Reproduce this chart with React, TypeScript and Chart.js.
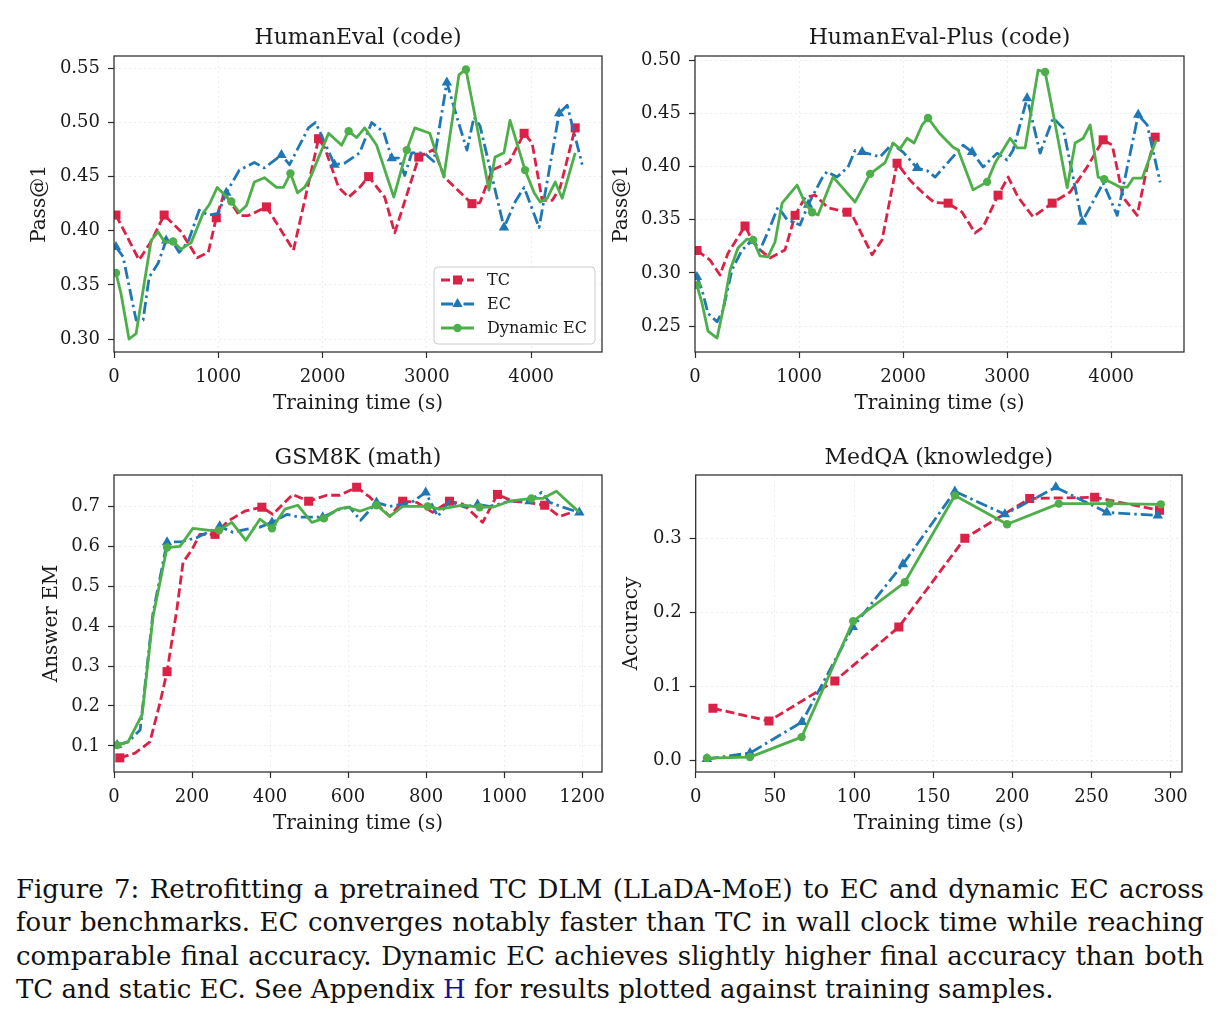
import React, { useEffect, useRef } from "react";
import { Chart, registerables } from "chart.js";

Chart.register(...registerables);

// ---------------- data ----------------
const seriesNames = ["TC", "EC", "Dynamic EC"];

// HumanEval (code)
const heTcTime = [19, 240, 356, 481, 644, 798, 904, 981, 1058, 1202, 1288, 1462, 1721, 1962, 2019, 2154, 2250, 2356, 2442, 2596, 2692, 2923, 3067, 3173, 3433, 3510, 3625, 3788, 3933, 4010, 4106, 4202, 4279, 4423];
const heTcPass = [0.4145, 0.373, 0.39, 0.4145, 0.399, 0.375, 0.38, 0.412, 0.435, 0.414, 0.414, 0.422, 0.382, 0.485, 0.477, 0.44, 0.431, 0.44, 0.45, 0.431, 0.398, 0.468, 0.475, 0.449, 0.425, 0.426, 0.456, 0.463, 0.49, 0.481, 0.428, 0.428, 0.44, 0.495];
const heTcMarks = [0, 3, 7, 11, 13, 18, 21, 24, 28, 33];
const heEcTime = [19, 87, 212, 279, 337, 423, 500, 548, 625, 712, 817, 904, 1000, 1077, 1202, 1346, 1442, 1606, 1683, 1865, 1933, 1990, 2115, 2212, 2356, 2471, 2587, 2663, 2731, 2788, 2856, 2971, 3067, 3192, 3288, 3385, 3452, 3510, 3740, 3846, 3933, 4077, 4269, 4346, 4490];
const heEcPass = [0.385, 0.376, 0.3175, 0.3175, 0.357, 0.37, 0.391, 0.392, 0.38, 0.39, 0.419, 0.4145, 0.416, 0.435, 0.456, 0.463, 0.458, 0.47, 0.461, 0.495, 0.5, 0.488, 0.461, 0.4625, 0.472, 0.5, 0.491, 0.467, 0.467, 0.451, 0.472, 0.472, 0.464, 0.537, 0.505, 0.4745, 0.505, 0.497, 0.403, 0.4265, 0.44, 0.403, 0.5085, 0.516, 0.461];
const heEcMarks = [0, 6, 13, 17, 22, 27, 33, 38, 42];
const heDynTime = [19, 67, 144, 212, 356, 423, 481, 567, 644, 740, 856, 913, 990, 1125, 1202, 1269, 1346, 1442, 1558, 1625, 1692, 1760, 1827, 1885, 2058, 2183, 2250, 2327, 2404, 2519, 2683, 2808, 2885, 3029, 3163, 3308, 3375, 3452, 3596, 3654, 3740, 3798, 3942, 4029, 4087, 4154, 4231, 4298, 4423];
const heDynPass = [0.361, 0.342, 0.3, 0.305, 0.391, 0.399, 0.39, 0.39, 0.383, 0.389, 0.4165, 0.424, 0.44, 0.427, 0.417, 0.423, 0.445, 0.449, 0.44, 0.44, 0.453, 0.435, 0.44, 0.4495, 0.49, 0.479, 0.492, 0.486, 0.495, 0.479, 0.431, 0.4745, 0.495, 0.49, 0.4495, 0.544, 0.549, 0.511, 0.4375, 0.468, 0.472, 0.502, 0.456, 0.435, 0.4265, 0.43, 0.445, 0.43, 0.472];
const heDynMarks = [0, 7, 13, 20, 26, 31, 36, 42];

// HumanEval-Plus (code)
const hpTcTime = [19, 144, 240, 317, 481, 548, 625, 721, 865, 962, 1058, 1154, 1279, 1462, 1519, 1702, 1798, 1942, 2067, 2192, 2300, 2433, 2567, 2692, 2769, 2913, 3010, 3106, 3250, 3433, 3606, 3769, 3923, 4010, 4115, 4250, 4346, 4423];
const hpTcPass = [0.321, 0.312, 0.298, 0.3185, 0.344, 0.331, 0.3215, 0.314, 0.3215, 0.354, 0.371, 0.373, 0.361, 0.357, 0.3525, 0.317, 0.331, 0.403, 0.387, 0.375, 0.366, 0.3655, 0.357, 0.3375, 0.343, 0.373, 0.39, 0.371, 0.3525, 0.3655, 0.376, 0.3995, 0.425, 0.42, 0.371, 0.354, 0.3995, 0.4275];
const hpTcMarks = [0, 4, 9, 13, 17, 21, 25, 29, 32, 37];
const hpEcTime = [19, 67, 125, 212, 269, 356, 452, 548, 625, 721, 798, 885, 1010, 1087, 1221, 1269, 1365, 1471, 1538, 1606, 1779, 1894, 2000, 2135, 2231, 2308, 2577, 2663, 2769, 2904, 3000, 3058, 3192, 3317, 3442, 3538, 3721, 3923, 4058, 4260, 4346, 4471];
const hpEcPass = [0.296, 0.284, 0.262, 0.254, 0.265, 0.303, 0.3215, 0.33, 0.3215, 0.343, 0.362, 0.35, 0.345, 0.364, 0.389, 0.395, 0.39, 0.3995, 0.415, 0.4135, 0.409, 0.421, 0.4135, 0.3985, 0.396, 0.39, 0.42, 0.4135, 0.3995, 0.4125, 0.406, 0.4155, 0.464, 0.4125, 0.4455, 0.436, 0.348, 0.3845, 0.354, 0.4485, 0.439, 0.385];
const hpEcMarks = [0, 7, 13, 19, 23, 27, 32, 36, 39];
const hpDynTime = [19, 67, 125, 212, 269, 337, 413, 500, 558, 625, 702, 769, 837, 981, 1058, 1125, 1183, 1327, 1413, 1538, 1683, 1827, 1904, 1971, 2038, 2106, 2183, 2240, 2346, 2481, 2529, 2673, 2808, 2885, 3029, 3096, 3173, 3298, 3365, 3442, 3577, 3654, 3731, 3798, 3875, 3933, 4010, 4087, 4154, 4212, 4298, 4433];
const hpDynPass = [0.2885, 0.2716, 0.2453, 0.2387, 0.265, 0.3025, 0.3233, 0.3317, 0.331, 0.316, 0.315, 0.329, 0.3655, 0.3825, 0.3655, 0.357, 0.3545, 0.39, 0.3805, 0.3665, 0.393, 0.4035, 0.422, 0.4165, 0.4265, 0.422, 0.439, 0.4455, 0.4315, 0.418, 0.4155, 0.378, 0.3855, 0.4035, 0.4265, 0.4175, 0.4175, 0.4906, 0.4887, 0.45, 0.38, 0.422, 0.4265, 0.439, 0.39, 0.388, 0.3845, 0.3805, 0.3805, 0.389, 0.389, 0.4248];
const hpDynMarks = [0, 8, 15, 20, 27, 32, 38, 45];

// GSM8K (math)
const gsTcTime = [15, 54, 92, 118, 136, 161, 177, 200, 220, 259, 292, 335, 379, 407, 458, 499, 545, 579, 622, 656, 707, 740, 776, 817, 860, 894, 945, 983, 1022, 1060, 1104, 1142, 1173];
const gsTcEm = [0.07, 0.082, 0.11, 0.208, 0.286, 0.441, 0.56, 0.592, 0.63, 0.63, 0.663, 0.688, 0.698, 0.68, 0.73, 0.713, 0.728, 0.728, 0.748, 0.723, 0.675, 0.713, 0.71, 0.685, 0.713, 0.706, 0.66, 0.73, 0.713, 0.71, 0.703, 0.675, 0.685];
const gsTcMarks = [0, 4, 9, 12, 15, 18, 21, 24, 27, 30];
const gsEcTime = [8, 36, 67, 100, 136, 174, 213, 271, 305, 341, 374, 405, 443, 476, 535, 579, 604, 632, 673, 707, 763, 799, 830, 860, 899, 932, 963, 1014, 1065, 1096, 1117, 1150, 1193];
const gsEcEm = [0.102, 0.11, 0.14, 0.433, 0.61, 0.612, 0.622, 0.65, 0.635, 0.643, 0.648, 0.66, 0.68, 0.673, 0.673, 0.693, 0.698, 0.665, 0.71, 0.7, 0.71, 0.735, 0.675, 0.713, 0.698, 0.705, 0.7, 0.713, 0.713, 0.735, 0.71, 0.698, 0.685];
const gsEcMarks = [0, 4, 7, 11, 14, 18, 21, 25, 28, 32];
const gsDynTime = [8, 36, 72, 100, 136, 169, 202, 246, 269, 302, 338, 374, 405, 438, 471, 507, 538, 574, 599, 630, 673, 707, 740, 804, 835, 894, 937, 971, 1014, 1070, 1099, 1134, 1193];
const gsDynEm = [0.102, 0.11, 0.178, 0.424, 0.597, 0.6, 0.645, 0.64, 0.64, 0.66, 0.615, 0.668, 0.645, 0.693, 0.703, 0.66, 0.67, 0.693, 0.698, 0.688, 0.703, 0.675, 0.7, 0.7, 0.693, 0.703, 0.698, 0.698, 0.713, 0.72, 0.72, 0.738, 0.685];
const gsDynMarks = [0, 4, 8, 12, 16, 20, 23, 26, 29];

// MedQA (knowledge)
const mqTcTime = [10.9, 46.3, 87.9, 128.3, 170, 211, 252, 293];
const mqTcAcc = [0.07, 0.0527, 0.107, 0.18, 0.3, 0.354, 0.3555, 0.338];
const mqTcMarks = [0, 1, 2, 3, 4, 5, 6, 7];
const mqEcTime = [7.1, 34.3, 67.1, 99.3, 130.9, 163.7, 195.3, 227.5, 259.7, 291.9];
const mqEcAcc = [0.0014, 0.0095, 0.0514, 0.18, 0.265, 0.3635, 0.3325, 0.369, 0.335, 0.331];
const mqEcMarks = [0, 1, 2, 3, 4, 5, 6, 7, 8, 9];
const mqDynTime = [7.1, 34.3, 66.9, 99.5, 132.1, 163.7, 196.7, 229.4, 261.5, 293.8];
const mqDynAcc = [0.0027, 0.004, 0.031, 0.188, 0.2405, 0.358, 0.319, 0.347, 0.347, 0.346];
const mqDynMarks = [0, 1, 2, 3, 4, 5, 6, 7, 8, 9];

// axis ticks
const heXTicks = [0, 1000, 2000, 3000, 4000];
const heYTicks = [0.3, 0.35, 0.4, 0.45, 0.5, 0.55];
const hpXTicks = [0, 1000, 2000, 3000, 4000];
const hpYTicks = [0.25, 0.3, 0.35, 0.4, 0.45, 0.5];
const gsXTicks = [0, 200, 400, 600, 800, 1000, 1200];
const gsYTicks = [0.1, 0.2, 0.3, 0.4, 0.5, 0.6, 0.7];
const mqXTicks = [0, 50, 100, 150, 200, 250, 300];
const mqYTicks = [0.0, 0.1, 0.2, 0.3];

const captionLines = [
  "Figure 7: Retrofitting a pretrained TC DLM (LLaDA-MoE) to EC and dynamic EC across",
  "four benchmarks. EC converges notably faster than TC in wall clock time while reaching",
  "comparable final accuracy. Dynamic EC achieves slightly higher final accuracy than both",
];
const captionLastBefore = "TC and static EC. See Appendix ";
const captionLink = "H";
const captionLastAfter = " for results plotted against training samples.";

// ---------------- styles ----------------
const FONT = '"DejaVu Serif", serif';
const TEXT = "#1a1a1a";
const SPINE = "#2b2b2b";
const LINE_W = 2.8;

type SeriesStyle = { color: string; dash: number[]; point: string; radius: number };
const STYLES: Record<string, SeriesStyle> = {
  TC: { color: "#DB2145", dash: [9, 4], point: "rect", radius: 6.4 },
  EC: { color: "#1F77B4", dash: [12, 4, 2.5, 4], point: "triangle", radius: 6 },
  "Dynamic EC": { color: "#4DAF4A", dash: [], point: "circle", radius: 4.2 },
};

type Series = { name: string; x: number[]; y: number[]; marks: number[] };
type PanelCfg = {
  left: number; top: number; w: number; h: number;
  title: string; yLabel: string; xLabel: string;
  series: Series[];
  xMin: number; xMax: number; yMin: number; yMax: number;
  xTicks: number[]; yTicks: number[]; yDec: number;
  yAxisWidth: number; xAxisHeight: number; padRight: number;
  titlePadTop: number; titlePadBottom: number;
  yTitlePad: number; xTitlePad: number;
  legend: boolean;
};

function drawMarker(ctx: CanvasRenderingContext2D, kind: string, x: number, y: number, r: number) {
  ctx.beginPath();
  if (kind === "rect") {
    const s = r * Math.SQRT1_2;
    ctx.rect(x - s, y - s, 2 * s, 2 * s);
  } else if (kind === "triangle") {
    for (let k = 0; k < 3; k++) {
      const a = (k * 2 * Math.PI) / 3;
      const px = x + Math.sin(a) * r;
      const py = y - Math.cos(a) * r;
      if (k === 0) ctx.moveTo(px, py);
      else ctx.lineTo(px, py);
    }
    ctx.closePath();
  } else {
    ctx.arc(x, y, r, 0, Math.PI * 2);
  }
  ctx.fill();
}

const framePlugin = {
  id: "mplFrame",
  afterDatasetsDraw(chart: any) {
    const { ctx, chartArea: a } = chart;
    ctx.save();
    ctx.strokeStyle = SPINE;
    ctx.lineWidth = 1.25;
    ctx.setLineDash([]);
    ctx.strokeRect(a.left, a.top, a.right - a.left, a.bottom - a.top);
    ctx.restore();
  },
};

const legendPlugin = {
  id: "mplLegend",
  afterDraw(chart: any, _args: any, opts: any) {
    if (!opts || !opts.show) return;
    const { ctx, chartArea: a } = chart;
    const names: string[] = chart.data.datasets.map((d: any) => d.label);
    ctx.save();
    ctx.font = `16px ${FONT}`;
    const textW = Math.max(...names.map((n) => ctx.measureText(n).width));
    const lineLen = 33;
    const boxW = 7 + lineLen + 13 + textW + 8;
    const rowH = 24;
    const boxH = 13 + rowH * (names.length - 1) + 16;
    const x0 = a.right - 7 - boxW;
    const y0 = a.bottom - 8 - boxH;
    ctx.beginPath();
    ctx.roundRect(x0, y0, boxW, boxH, 4);
    ctx.fillStyle = "rgba(255,255,255,0.85)";
    ctx.fill();
    ctx.strokeStyle = "#cccccc";
    ctx.lineWidth = 1;
    ctx.stroke();
    names.forEach((n, i) => {
      const st = STYLES[n];
      const cy = y0 + 13 + i * rowH;
      ctx.strokeStyle = st.color;
      ctx.fillStyle = st.color;
      ctx.lineWidth = LINE_W;
      ctx.setLineDash(st.dash);
      ctx.beginPath();
      ctx.moveTo(x0 + 7, cy);
      ctx.lineTo(x0 + 7 + lineLen, cy);
      ctx.stroke();
      ctx.setLineDash([]);
      drawMarker(ctx, st.point, x0 + 7 + lineLen / 2, cy, st.radius);
      ctx.fillStyle = TEXT;
      ctx.textBaseline = "middle";
      ctx.textAlign = "left";
      ctx.fillText(n, x0 + 7 + lineLen + 13, cy + 1);
    });
    ctx.restore();
  },
};

function buildConfig(p: PanelCfg): any {
  const datasets = p.series.map((s, k) => {
    const st = STYLES[s.name];
    return {
      label: s.name,
      data: s.x.map((xv, i) => ({ x: xv, y: s.y[i] })),
      borderColor: st.color,
      backgroundColor: st.color,
      pointBackgroundColor: st.color,
      pointBorderColor: st.color,
      borderWidth: LINE_W,
      borderDash: st.dash,
      borderJoinStyle: "round",
      pointStyle: st.point,
      pointRadius: (c: any) => (s.marks.includes(c.dataIndex) ? st.radius : 0),
      pointHoverRadius: 0,
      pointBorderWidth: 0,
      tension: 0,
      order: p.series.length - k,
    };
  });
  const tickFont = { family: FONT, size: 18 };
  const labelFont = { family: FONT, size: 20 };
  const grid = {
    color: "rgba(0,0,0,0.09)",
    lineWidth: 0.8,
    tickColor: SPINE,
    tickLength: 6,
    tickWidth: 1.2,
    drawTicks: true,
  };
  return {
    type: "line",
    data: { datasets },
    plugins: [framePlugin, legendPlugin],
    options: {
      responsive: false,
      maintainAspectRatio: false,
      animation: false,
      events: [],
      layout: { padding: { left: 0, right: p.padRight, top: 0, bottom: 0 } },
      plugins: {
        legend: { display: false },
        tooltip: { enabled: false },
        title: {
          display: true,
          text: p.title,
          fullSize: false,
          color: TEXT,
          font: { family: FONT, size: 22, weight: "normal" },
          padding: { top: p.titlePadTop, bottom: p.titlePadBottom },
        },
        mplLegend: { show: p.legend },
      },
      scales: {
        x: {
          type: "linear",
          min: p.xMin,
          max: p.xMax,
          afterBuildTicks: (s: any) => {
            s.ticks = p.xTicks.map((v) => ({ value: v }));
          },
          afterFit: (s: any) => {
            s.height = p.xAxisHeight;
            s.paddingLeft = 0;
            s.paddingRight = 0;
          },
          ticks: {
            font: tickFont,
            color: TEXT,
            padding: 9,
            maxRotation: 0,
            autoSkip: false,
            callback: (v: any) => String(v),
          },
          grid,
          border: { display: false, dash: [2, 3] },
          title: {
            display: true,
            text: p.xLabel,
            color: TEXT,
            font: labelFont,
            padding: { top: 0, bottom: p.xTitlePad },
          },
        },
        y: {
          type: "linear",
          min: p.yMin,
          max: p.yMax,
          afterBuildTicks: (s: any) => {
            s.ticks = p.yTicks.map((v) => ({ value: v }));
          },
          afterFit: (s: any) => {
            s.width = p.yAxisWidth;
            s.paddingTop = 0;
            s.paddingBottom = 0;
          },
          ticks: {
            font: tickFont,
            color: TEXT,
            padding: 8,
            autoSkip: false,
            callback: (v: any) => Number(v).toFixed(p.yDec),
          },
          grid,
          border: { display: false, dash: [2, 3] },
          title: {
            display: true,
            text: p.yLabel,
            color: TEXT,
            font: labelFont,
            padding: { top: p.yTitlePad, bottom: 0 },
          },
        },
      },
    },
  };
}

function mkSeries(x1: number[], y1: number[], m1: number[], x2: number[], y2: number[], m2: number[], x3: number[], y3: number[], m3: number[]): Series[] {
  return [
    { name: seriesNames[0], x: x1, y: y1, marks: m1 },
    { name: seriesNames[1], x: x2, y: y2, marks: m2 },
    { name: seriesNames[2], x: x3, y: y3, marks: m3 },
  ];
}

const PANELS: PanelCfg[] = [
  {
    left: 0, top: 0, w: 610, h: 430,
    title: "HumanEval (code)", yLabel: "Pass@1", xLabel: "Training time (s)",
    series: mkSeries(heTcTime, heTcPass, heTcMarks, heEcTime, heEcPass, heEcMarks, heDynTime, heDynPass, heDynMarks),
    xMin: 0, xMax: 4680, yMin: 0.288, yMax: 0.5614,
    xTicks: heXTicks, yTicks: heYTicks, yDec: 2,
    yAxisWidth: 114, xAxisHeight: 78, padRight: 8,
    titlePadTop: 25, titlePadBottom: 4.6, yTitlePad: 28, xTitlePad: 14, legend: true,
  },
  {
    left: 610, top: 0, w: 610, h: 430,
    title: "HumanEval-Plus (code)", yLabel: "Pass@1", xLabel: "Training time (s)",
    series: mkSeries(hpTcTime, hpTcPass, hpTcMarks, hpEcTime, hpEcPass, hpEcMarks, hpDynTime, hpDynPass, hpDynMarks),
    xMin: 0, xMax: 4700, yMin: 0.2256, yMax: 0.5038,
    xTicks: hpXTicks, yTicks: hpYTicks, yDec: 2,
    yAxisWidth: 85, xAxisHeight: 78, padRight: 36,
    titlePadTop: 25, titlePadBottom: 4.6, yTitlePad: 0, xTitlePad: 14, legend: false,
  },
  {
    left: 0, top: 430, w: 610, h: 430,
    title: "GSM8K (math)", yLabel: "Answer EM", xLabel: "Training time (s)",
    series: mkSeries(gsTcTime, gsTcEm, gsTcMarks, gsEcTime, gsEcEm, gsEcMarks, gsDynTime, gsDynEm, gsDynMarks),
    xMin: 0, xMax: 1251, yMin: 0.0346, yMax: 0.7787,
    xTicks: gsXTicks, yTicks: gsYTicks, yDec: 1,
    yAxisWidth: 114, xAxisHeight: 88, padRight: 8,
    titlePadTop: 14.8, titlePadBottom: 3.8, yTitlePad: 40, xTitlePad: 24, legend: false,
  },
  {
    left: 610, top: 430, w: 610, h: 430,
    title: "MedQA (knowledge)", yLabel: "Accuracy", xLabel: "Training time (s)",
    series: mkSeries(mqTcTime, mqTcAcc, mqTcMarks, mqEcTime, mqEcAcc, mqEcMarks, mqDynTime, mqDynAcc, mqDynMarks),
    xMin: 0, xMax: 307.2, yMin: -0.0162, yMax: 0.3857,
    xTicks: mqXTicks, yTicks: mqYTicks, yDec: 1,
    yAxisWidth: 85.7, xAxisHeight: 88, padRight: 38,
    titlePadTop: 14.8, titlePadBottom: 3.8, yTitlePad: 10, xTitlePad: 24, legend: false,
  },
];

function Panel({ cfg }: { cfg: PanelCfg }) {
  const ref = useRef<HTMLCanvasElement>(null);
  useEffect(() => {
    if (!ref.current) return;
    const chart = new Chart(ref.current, buildConfig(cfg));
    return () => chart.destroy();
  }, [cfg]);
  return (
    <canvas
      ref={ref}
      width={cfg.w}
      height={cfg.h}
      style={{ position: "absolute", left: cfg.left, top: cfg.top, width: cfg.w, height: cfg.h }}
    />
  );
}

const captionFont: React.CSSProperties = {
  fontFamily: FONT,
  fontSize: 26,
  lineHeight: "33.4px",
  color: "#111",
  whiteSpace: "nowrap",
};

export default function App() {
  return (
    <div style={{ position: "absolute", left: 0, top: 0, width: 1220, height: 1023, background: "#fff", overflow: "hidden" }}>
      {PANELS.map((p, i) => (
        <Panel key={i} cfg={p} />
      ))}
      <div style={{ position: "absolute", left: 16, top: 873, width: 1188, ...captionFont }}>
        {captionLines.map((line, i) => (
          <div key={i} style={{ display: "flex", justifyContent: "space-between" }}>
            {line.split(" ").map((w, j) => (
              <span key={j}>{w}</span>
            ))}
          </div>
        ))}
        <div>
          {captionLastBefore}
          <span style={{ color: "#1010A0" }}>{captionLink}</span>
          {captionLastAfter}
        </div>
      </div>
    </div>
  );
}
